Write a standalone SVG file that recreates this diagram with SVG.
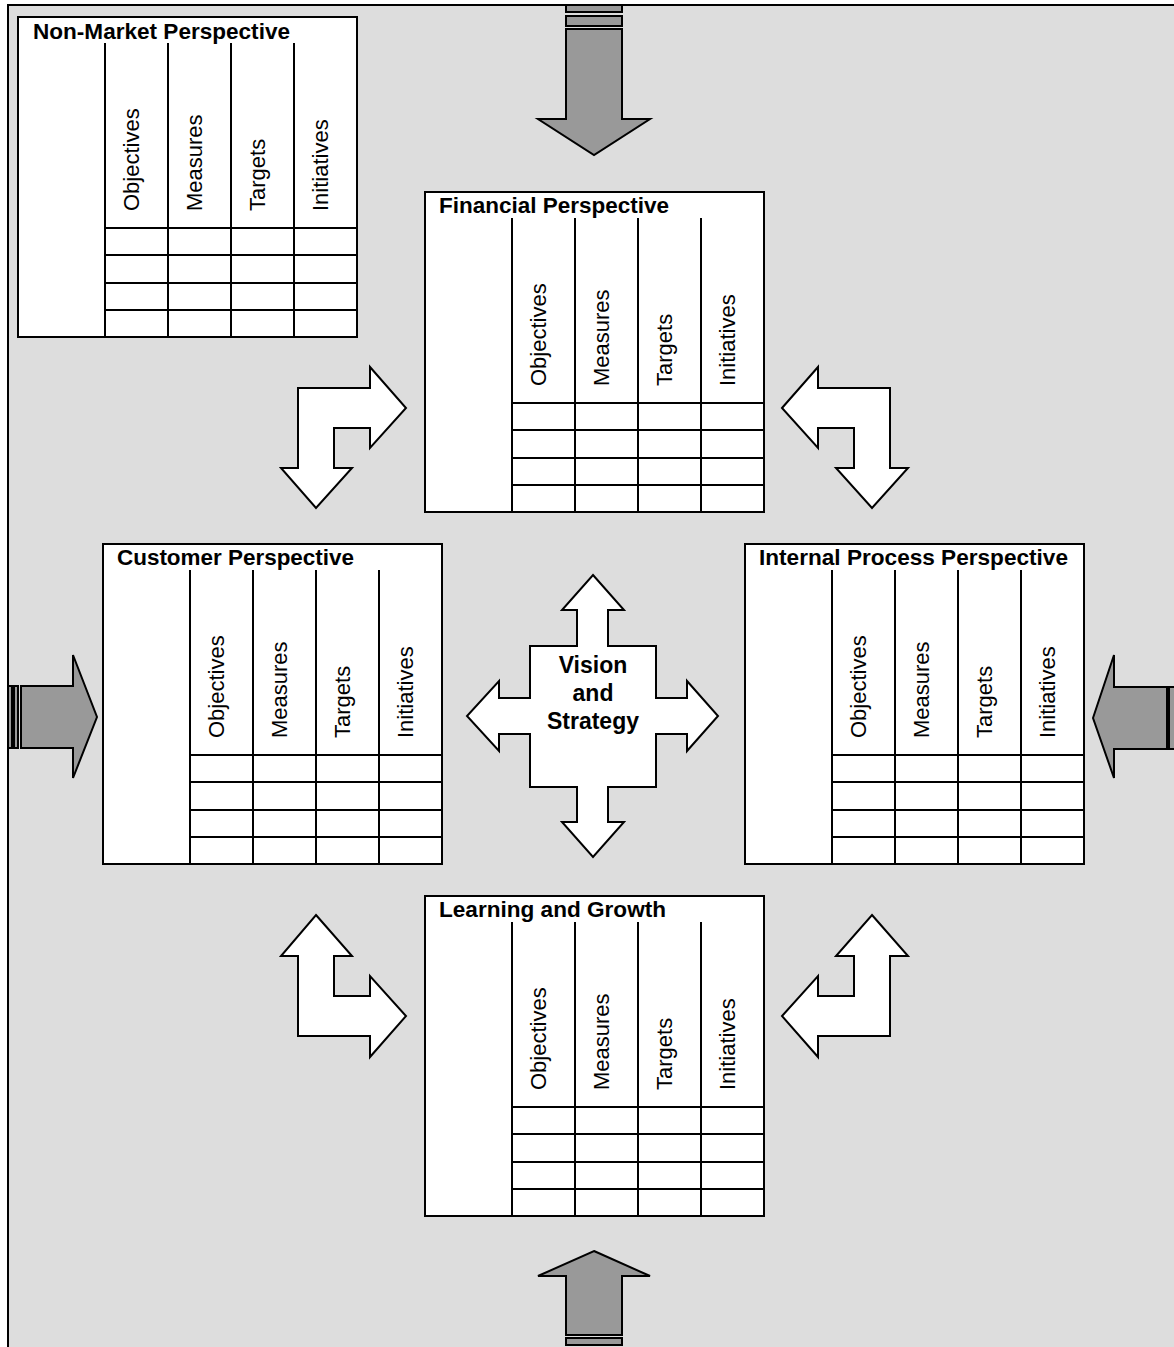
<svg xmlns="http://www.w3.org/2000/svg" width="1174" height="1347" viewBox="0 0 1174 1347">
<style>
.frame{fill:#dddddd;stroke:#000;stroke-width:2}
.box{fill:#fff;stroke:#000;stroke-width:2}
.ln{stroke:#000;stroke-width:2;fill:none}
.ttl{font-family:"Liberation Sans",Arial,sans-serif;font-weight:bold;font-size:22px;fill:#000}
.hd{font-family:"Liberation Sans",Arial,sans-serif;font-size:22px;fill:#000}
.vs{font-family:"Liberation Sans",Arial,sans-serif;font-weight:bold;font-size:23px;fill:#000;text-anchor:middle}
.garr{fill:#999999;stroke:#000;stroke-width:2;stroke-linejoin:miter}
.warr{fill:#fff;stroke:#000;stroke-width:2;stroke-linejoin:miter}
</style>
<defs>
<g id="grid">
<rect class="box" x="0" y="0" width="339" height="320"/>
<path class="ln" d="M87,26V320M150,26V320M213,26V320M276,26V320M87,211H339M87,238H339M87,266H339M87,293H339"/>
<text class="hd" transform="translate(121,194) rotate(-90)">Objectives</text>
<text class="hd" transform="translate(184,194) rotate(-90)">Measures</text>
<text class="hd" transform="translate(247,194) rotate(-90)">Targets</text>
<text class="hd" transform="translate(310,194) rotate(-90)">Initiatives</text>
</g>
</defs>
<rect x="0" y="0" width="1174" height="1347" fill="#fff"/>
<rect class="frame" x="8" y="5" width="1180" height="1360"/>

<g id="connectors">
<g id="ext-top">
<rect class="garr" x="566" y="5" width="56" height="7"/>
<rect class="garr" x="566" y="16" width="56" height="10"/>
<polygon class="garr" points="566,29 622,29 622,119 650,119 594,155 538,119 566,119"/>
</g>
<g id="ext-bottom">
<polygon class="garr" points="594,1251 650,1276 622,1276 622,1335 566,1335 566,1276 538,1276"/>
<rect class="garr" x="566" y="1338" width="56" height="7"/>
</g>
<g id="ext-left">
<rect class="garr" x="8" y="686" width="4" height="62"/>
<rect class="garr" x="14" y="686" width="4" height="62"/>
<polygon class="garr" points="21,686 73,686 73,655 97,717 73,778 73,748 21,748"/>
</g>
<g id="ext-right">
<polygon class="garr" points="1093,718 1114,655 1114,687 1167,687 1167,749 1114,749 1114,778"/>
<rect class="garr" x="1169" y="687" width="10" height="62"/>
</g>
<polygon class="warr" points="298,388 370,388 370,367 406,408 370,448 370,428 334,428 334,468 352,468 316,508 281,468 298,468"/>
<polygon class="warr" points="782,408 818,367 818,388 890,388 890,468 908,468 872,508 836,468 854,468 854,428 818,428 818,448"/>
<polygon class="warr" points="316,915 352,956 334,956 334,996 370,996 370,976 406,1016 370,1057 370,1036 298,1036 298,956 281,956"/>
<polygon class="warr" points="872,915 908,956 890,956 890,1036 818,1036 818,1057 782,1016 818,976 818,996 854,996 854,956 836,956"/>
</g>

<g id="vision">
<polygon class="warr" points="593,575 624,610 608,610 608,646 656,646 656,698 687,698 687,681 718,716 687,751 687,734 656,734 656,787 608,787 608,822 624,822 593,857 562,822 577,822 577,787 530,787 530,734 499,734 499,751 467,716 499,681 499,698 530,698 530,646 577,646 577,610 562,610"/>
<text class="vs" x="593" y="673">Vision</text>
<text class="vs" x="593" y="701">and</text>
<text class="vs" x="593" y="729">Strategy</text>
</g>

<g id="nonmarket" transform="translate(18,17)">
<use href="#grid"/>
<text class="ttl" x="15" y="22" textLength="257" lengthAdjust="spacingAndGlyphs">Non-Market Perspective</text>
</g>
<g id="financial" transform="translate(425,192)">
<use href="#grid"/>
<text class="ttl" x="14" y="21" textLength="230" lengthAdjust="spacingAndGlyphs">Financial Perspective</text>
</g>
<g id="customer" transform="translate(103,544)">
<use href="#grid"/>
<text class="ttl" x="14" y="21" textLength="237" lengthAdjust="spacingAndGlyphs">Customer Perspective</text>
</g>
<g id="internal" transform="translate(745,544)">
<use href="#grid"/>
<text class="ttl" x="14" y="21" textLength="309" lengthAdjust="spacingAndGlyphs">Internal Process Perspective</text>
</g>
<g id="learning" transform="translate(425,896)">
<use href="#grid"/>
<text class="ttl" x="14" y="21" textLength="227" lengthAdjust="spacingAndGlyphs">Learning and Growth</text>
</g>
</svg>
